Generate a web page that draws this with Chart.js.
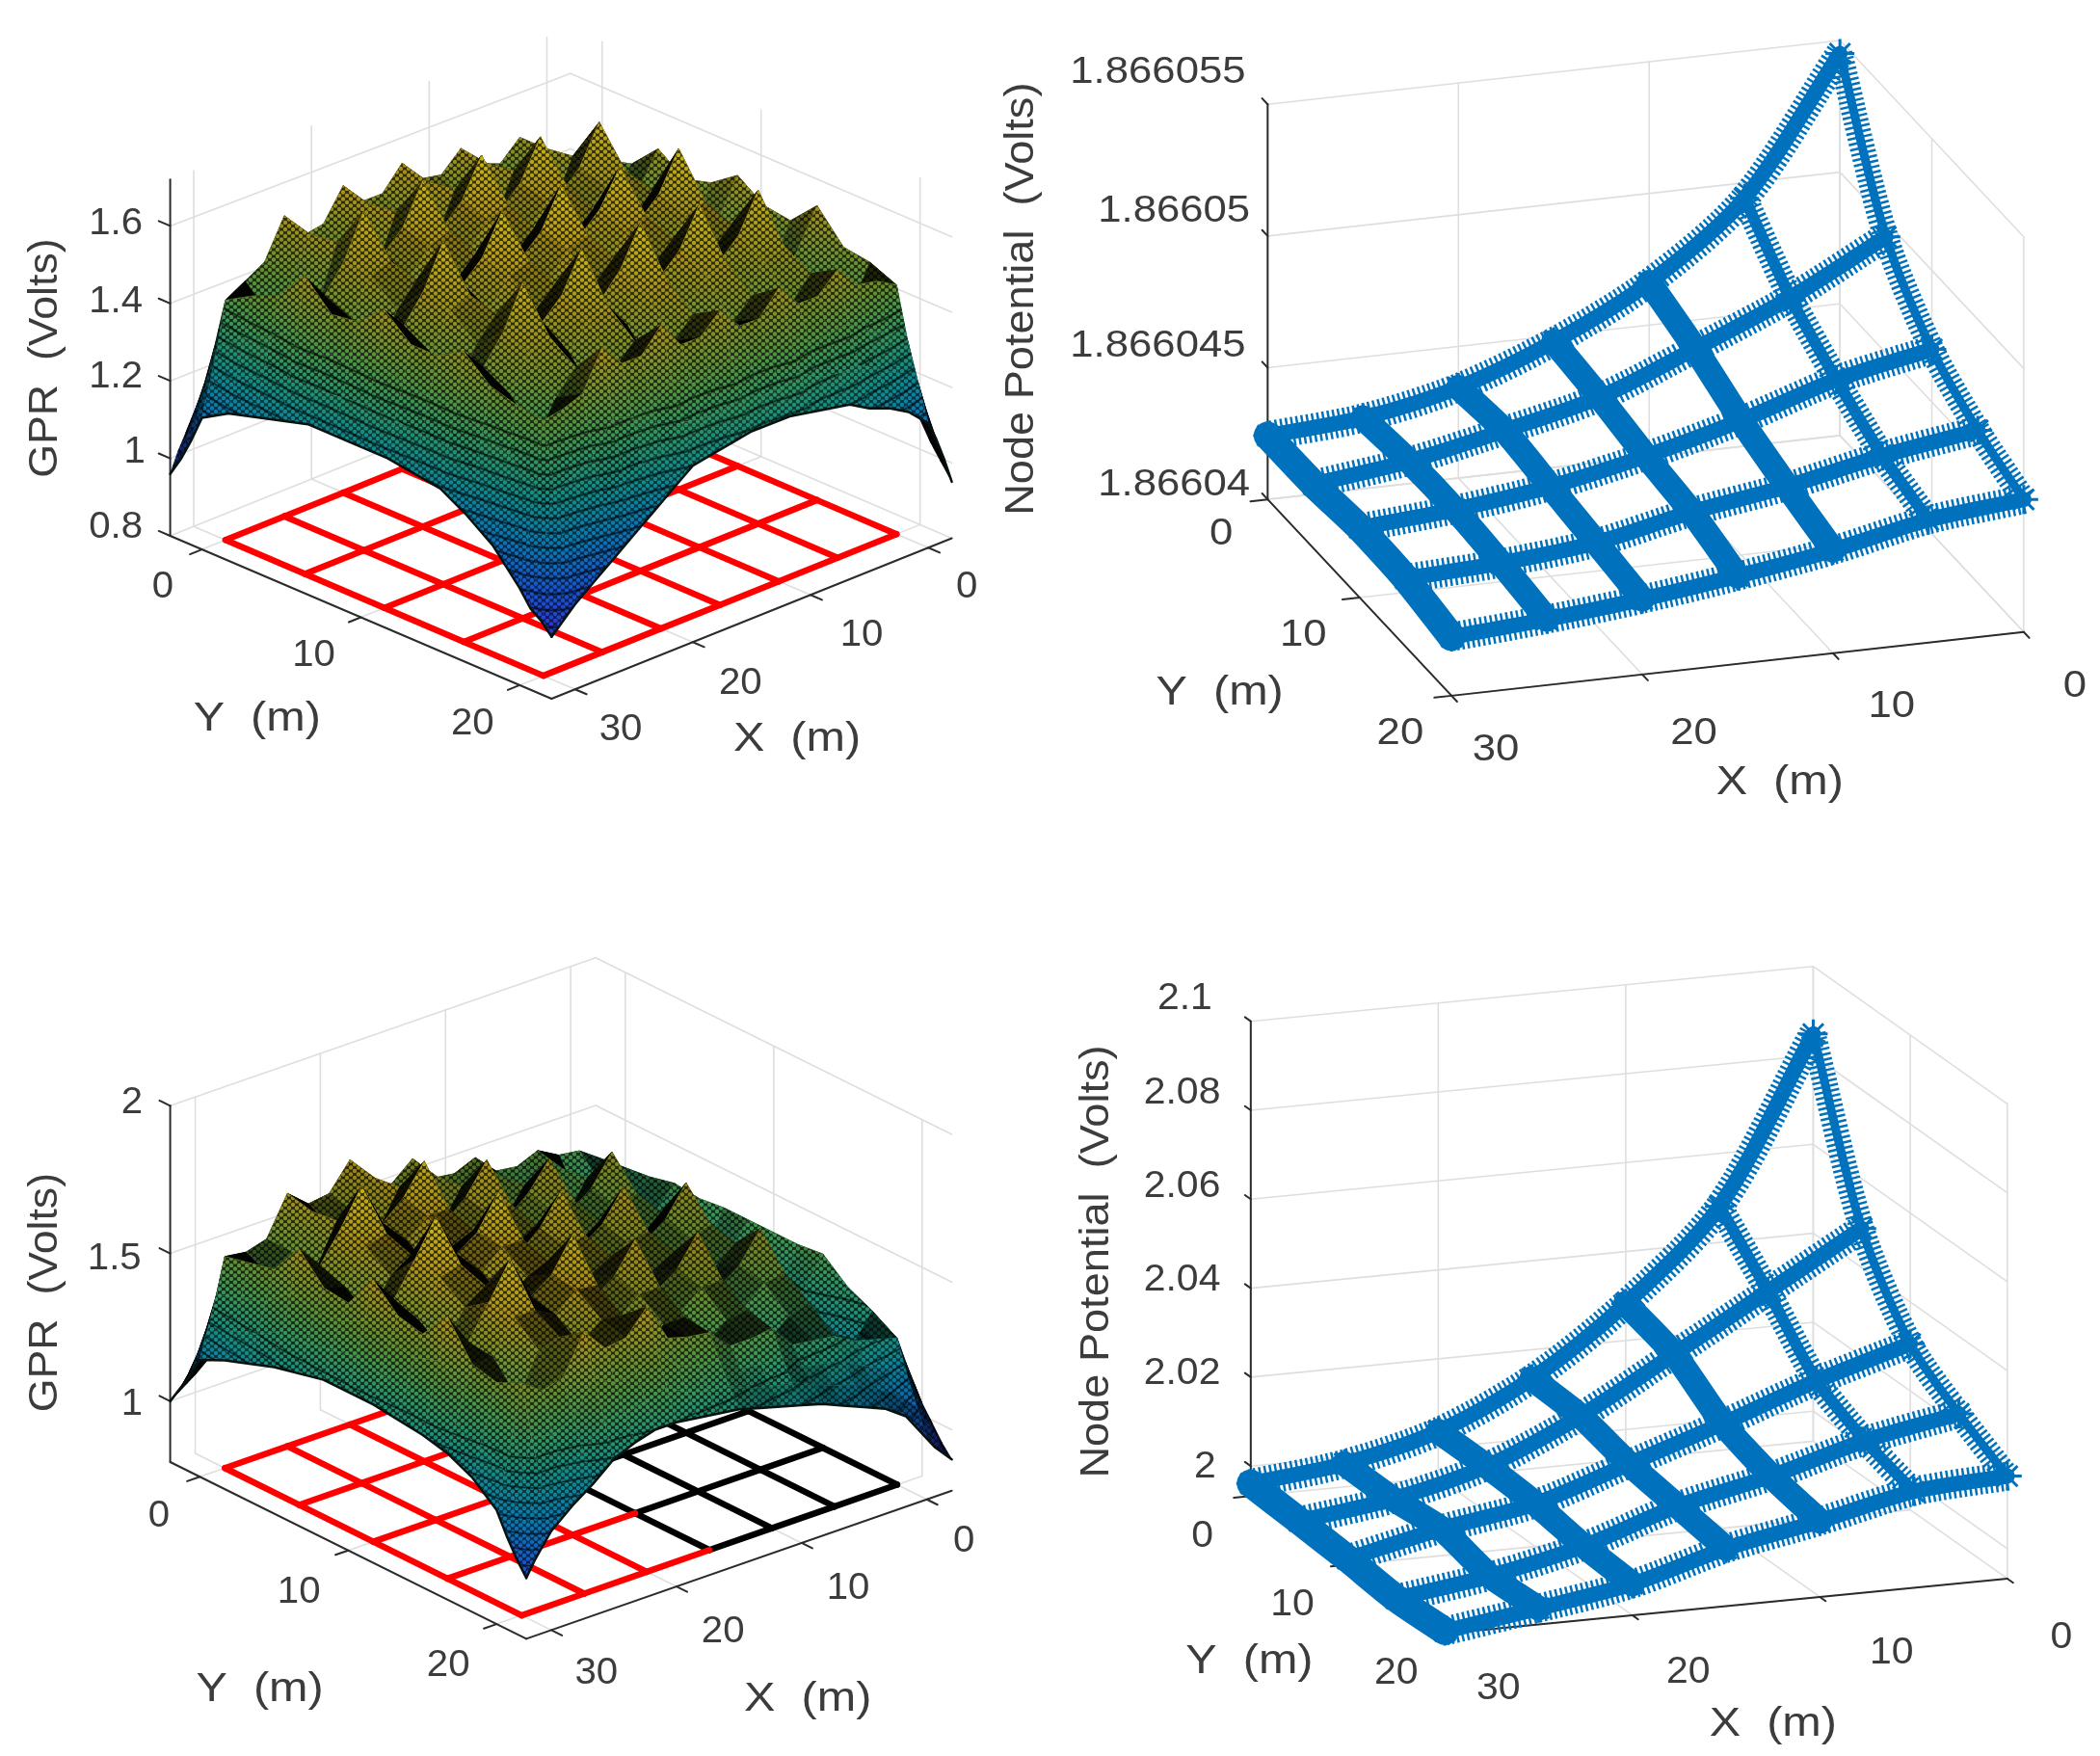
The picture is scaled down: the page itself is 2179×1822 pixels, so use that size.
<!DOCTYPE html>
<html><head><meta charset="utf-8">
<style>html,body{margin:0;padding:0;background:#fff;overflow:hidden}
#wrap{position:relative;width:2179px;height:1822px}
canvas{position:absolute;filter:blur(0.6px)}</style>
<script src="https://cdn.jsdelivr.net/npm/chart.js@4/dist/chart.umd.min.js"></script>
</head><body><div id="wrap"></div>
<script>
// ---- grid conductors (m) and axis ticks
const GRID_X=[0,5,10,15,20,25,30];
const GRID_Y=[0,5,10,15,20];
const TICK_X=[0,10,20,30];
const TICK_Y=[0,10,20];
const GPR_TICKS_A=[0.8,1,1.2,1.4,1.6];
const GPR_LABELS_A=['0.8','1','1.2','1.4','1.6'];
const GPR_TICKS_B=[1,1.5,2];
const GPR_LABELS_B=['1','1.5','2'];
const NODE_TICKS_A=[0,5,10,15];          // microvolts above 1.86604 V
const NODE_LABELS_A=['1.86604','1.866045','1.86605','1.866055'];
const NODE_TICKS_B=[2,2.02,2.04,2.06,2.08,2.1];
const NODE_LABELS_B=['2','2.02','2.04','2.06','2.08','2.1'];
// ---- surface sample positions (m)
const SURF_X=[-2,-1.33,-.67,0,1.67,3.33,5,6.67,8.33,10,11.67,13.33,15,16.67,18.33,20,21.67,23.33,25,26.67,28.33,30,30.67,31.33,32];
const SURF_Y=[-2,-1.33,-.67,0,1.67,3.33,5,6.67,8.33,10,11.67,13.33,15,16.67,18.33,20,20.67,21.33,22];
// ---- GPR surface, upper panel, hundredths of a volt (row = Y, column = X)
const GPR_A=[
[95,102,108,112,116,118,120,122,123,124,124,124,124,124,123,122,121,120,118,116,112,108,105,101,96],
[101,108,115,120,125,127,130,130,132,134,133,133,135,133,132,134,130,129,130,126,122,118,113,107,101],
[107,114,122,129,135,137,142,139,141,145,142,143,146,143,142,146,140,139,143,136,132,129,121,114,107],
[114,122,130,140,146,148,155,150,152,158,153,154,160,154,154,160,152,151,158,148,145,142,131,122,114],
[118,126,135,146,140,136,155,146,142,157,148,144,158,148,144,158,148,142,156,146,138,146,136,127,118],
[120,128,137,148,138,134,156,144,140,158,146,142,159,147,142,159,146,141,157,142,136,149,139,129,120],
[122,132,142,155,146,141,168,158,153,170,160,155,171,161,156,170,160,155,168,157,150,157,144,132,122],
[124,132,140,150,143,137,158,156,150,160,158,152,161,159,153,160,158,152,158,156,147,150,141,132,124],
[124,132,141,152,140,134,156,150,144,157,152,146,158,153,147,157,152,146,156,150,141,151,142,133,124],
[125,135,145,157,147,142,170,160,155,171,162,157,172,162,157,171,161,156,169,158,151,157,144,134,124],
[125,133,142,152,143,137,159,157,151,161,159,153,162,160,154,161,159,152,158,156,147,151,142,133,124],
[124,132,141,151,140,134,156,151,145,158,153,147,159,154,148,158,153,146,156,150,141,151,141,132,123],
[123,133,145,158,148,142,168,158,153,170,160,155,171,161,155,170,160,155,167,156,149,155,142,132,122],
[120,129,139,150,142,136,156,154,148,158,156,150,159,157,151,158,156,150,156,154,145,149,138,127,118],
[116,126,136,149,138,134,152,146,140,152,147,141,153,148,142,152,147,141,151,145,136,147,135,123,113],
[108,119,132,146,149,150,156,151,151,157,151,151,157,152,152,159,153,153,159,149,147,146,130,117,105],
[103,112,123,133,137,139,143,142,142,146,143,143,146,143,143,146,141,140,142,134,131,129,119,110,101],
[99,107,115,123,127,130,133,133,134,137,135,135,137,135,135,136,131,129,127,122,118,115,109,104,99],
[95,102,108,113,118,121,123,126,127,128,129,129,129,128,127,126,122,118,114,110,106,102,100,98,96]];
// ---- GPR surface, lower panel, hundredths of a volt
const GPR_B=[
[90,96,100,104,108,110,112,114,116,118,120,122,124,125,126,126,125,124,122,118,112,106,104,102,100],
[94,102,107,114,118,120,122,123,125,128,129,131,134,135,136,138,135,134,135,128,123,120,115,110,106],
[99,106,115,126,130,131,134,134,135,139,139,141,146,145,146,153,146,145,149,139,136,134,126,119,112],
[104,113,125,140,145,146,150,147,148,155,152,153,162,156,158,169,160,159,165,152,150,151,139,129,119],
[108,118,128,141,136,132,148,140,136,153,146,142,160,152,148,167,158,154,163,152,146,153,142,132,123],
[110,119,130,142,134,130,149,138,134,154,144,140,161,150,146,168,156,152,164,150,144,155,145,135,126],
[112,122,132,144,136,130,162,152,147,167,158,152,174,164,158,181,171,165,180,168,158,166,152,140,129],
[114,122,132,143,133,127,152,150,144,157,155,149,163,162,156,169,169,163,168,166,155,157,150,140,131],
[115,123,133,144,130,124,150,144,138,154,149,143,160,156,150,166,163,157,165,160,149,156,151,142,133],
[116,124,133,144,136,131,164,154,149,170,160,155,176,166,160,183,172,167,182,170,159,168,155,144,133],
[116,124,133,144,132,126,154,152,146,159,158,152,165,164,158,171,171,165,170,168,156,160,152,142,133],
[115,123,133,144,129,123,152,146,140,156,152,146,162,158,152,168,165,159,167,162,150,158,151,141,132],
[114,123,133,145,134,128,161,151,146,167,157,152,172,162,157,181,170,165,180,168,157,168,154,142,131],
[112,120,128,138,128,122,150,149,143,155,155,149,160,160,154,168,169,163,167,167,156,156,147,138,129],
[109,116,125,134,124,120,144,142,136,149,148,142,154,154,148,162,163,157,162,160,146,154,144,134,125],
[104,112,120,129,131,133,137,138,139,147,146,146,153,154,156,169,161,160,168,155,153,158,143,130,118],
[99,105,111,118,123,126,130,132,133,139,139,140,145,146,148,156,151,150,154,143,140,141,130,121,111],
[94,99,103,109,116,120,124,126,129,132,133,135,138,139,141,145,143,141,141,133,129,127,119,113,105],
[90,93,96,100,110,115,118,121,124,126,128,130,132,133,134,135,135,133,130,124,119,113,109,105,100]];
// ---- node potentials on the conductor grid (row = GRID_Y, column = GRID_X)
const NODE_UV_A=[ // microvolts above 1.86604 V
[14.5,9.41,6.62,4.78,3.44,2.69,2.42],
[9.41,7.5,5.97,4.53,3.67,2.91,2.44],
[7.0,6.25,5.11,4.16,3.41,2.94,2.65],
[5.79,5.23,4.47,3.9,3.14,2.77,2.59],
[5.03,4.66,3.91,3.33,2.86,2.5,2.23]];
const NODE_V_B=[
[2.0848,2.0481,2.0283,2.0135,2.0037,1.9985,1.9961],
[2.0488,2.0367,2.0247,2.0128,2.0036,1.9983,1.9954],
[2.0306,2.0243,2.0168,2.0098,2.0029,1.9993,1.9946],
[2.0226,2.0186,2.0127,2.008,2.0011,1.9964,1.9934],
[2.0163,2.0149,2.0103,2.0062,2.0003,1.9969,1.9938]];

// ---- layout
const D=1.397; // label anchors below are in 1560-wide units
const FONT='"Liberation Sans"';
const P1={ox:0,oy:0,w:1030,h:900,xr:[-2,32],yr:[-2,22],zmin:.8,ztop:1.72,
 B:[591.9,389],L:[176.6,556],F:[572.3,725],R:[987.6,558.5],k0:391,dk:11,
 zt:GPR_TICKS_A,zl:GPR_LABELS_A,zpos:[[86,392],[100,336],[86,280],[86,224],[86,166]],
 xpos:[[718,436],[640,472],[550,508],[461,542]],ypos:[[121,436],[233,487],[351,538]],
 xt:[592,549],yt:[191,534],ztl:[34,266],ztitle:'GPR  (Volts)',fs:39,sx:1.03,tfs:43,tsx:1.04,hsx:1.13,
 ctop:1.42,cstep:.035,clim:[.95,1.72]};
const P3={ox:0,oy:900,w:1030,h:922,xr:[-2,32],yr:[-2,22],zmin:.794,ztop:2,
 B:[618.1,1363.3],L:[176.6,1517],F:[546.1,1700.4],R:[987.6,1546.7],k0:306.5,dk:0,
 zt:GPR_TICKS_B,zl:GPR_LABELS_B,zpos:[[98,1043],[85,935],[98,819]],
 xpos:[[716,1145],[630,1180],[537,1212],[443,1243]],ypos:[[118,1126],[222,1183],[333,1237]],
 xt:[600,1262],yt:[193,1255],ztl:[34,960],ztitle:'GPR  (Volts)',fs:39,sx:1.03,tfs:43,tsx:1.04,hsx:1.13,
 ctop:1.38,cstep:.045,clim:[.9,1.83]};
const P2={ox:1030,oy:0,w:1149,h:900,xr:[0,30],yr:[0,20],zmin:0,ztop:15,
 B:[1919,452],L:[1306,521],F:[1503,733.2],R:[2115.9,664.3],k0:28.47,dk:0,
 zt:NODE_TICKS_A,zl:NODE_LABELS_A,zpos:[[872,360],[860,257],[872,157],[860,54]],
 xpos:[[1541,510],[1405,525],[1258,545],[1111,557]],ypos:[[907,397],[968,472],[1040,545]],
 xt:[1322,581],yt:[906,515],ztl:[759,222],ztitle:'Node Potential  (Volts)',fs:39,sx:1.12,tfs:43,tsx:1.05,hsx:1.13};
const P4={ox:1030,oy:900,w:1149,h:922,xr:[0,30],yr:[0,20],zmin:1.99326,ztop:2.1,
 B:[1890.4,1500.8],L:[1287.9,1560.1],F:[1495.8,1708.5],R:[2098.3,1649.2],k0:4803,dk:0,
 zt:NODE_TICKS_B,zl:NODE_LABELS_B,zpos:[[895,1090],[878,1020],[878,951],[878,881],[878,812],[880,742]],
 xpos:[[1531,1216],[1405,1228],[1254,1242],[1113,1254]],ypos:[[893,1141],[960,1192],[1037,1243]],
 xt:[1317,1281],yt:[928,1234],ztl:[815,937],ztitle:'Node Potential  (Volts)',fs:39,sx:1.05,tfs:43,tsx:1.05,hsx:1.13};
const GRID_GREY='#dedede',AXIS='#2b2b2b',TEXT='#3c3c3c',BLUE='#0072BD';

function projector(p){return (X,Y,Z)=>{
 const u=(X-p.xr[0])/(p.xr[1]-p.xr[0]),v=(Y-p.yr[0])/(p.yr[1]-p.yr[0]);
 const f=i=>(1-v)*((1-u)*p.B[i]+u*p.L[i])+v*((1-u)*p.R[i]+u*p.F[i]);
 return {x:f(0)-p.ox,y:f(1)-p.oy-(Z-p.zmin)*(p.k0+p.dk*u)};};}

function lineDs(pts,color,w,extra){return Object.assign({data:pts,showLine:true,borderColor:color,borderWidth:w,
 pointRadius:0,fill:false,clip:false,borderCapStyle:'round',borderJoinStyle:'round'},extra||{});}

function axesLayers(p,P){
 const out=[],[x0,x1]=p.xr,[y0,y1]=p.yr,z0=p.zmin,zt=p.ztop;
 const g=(a,b)=>out.push(lineDs([a,b],GRID_GREY,1.6));
 p.zt.forEach(z=>{const b=P(x0,y0,z);g(P(x1,y0,z),b);g(b,P(x0,y1,z));});
 TICK_X.forEach(x=>{g(P(x,y0,z0),P(x,y0,zt));g(P(x,y0,z0),P(x,y1,z0));});
 TICK_Y.forEach(y=>{g(P(x0,y,z0),P(x0,y,zt));g(P(x0,y,z0),P(x1,y,z0));});
 const d=(a,b)=>out.push(lineDs([a,b],AXIS,2));
 d(P(x1,y0,z0),P(x1,y0,zt));d(P(x1,y0,z0),P(x1,y1,z0));d(P(x1,y1,z0),P(x0,y1,z0));
 const dy=(y1-y0)*.03,dx=(x1-x0)*.03;
 p.zt.forEach(z=>d(P(x1,y0,z),P(x1,y0-dy,z)));
 TICK_X.forEach(x=>d(P(x,y1,z0),P(x,y1+dy,z0)));
 TICK_Y.forEach(y=>d(P(x1,y,z0),P(x1+dx,y,z0)));
 return out;}

function floorGrid(p,P,isBlack){
 const out=[],z=p.zmin,add=(a,b,c)=>out.push(lineDs([a,b],c,6.5));
 GRID_X.forEach(x=>{for(let j=0;j<GRID_Y.length-1;j++){const y=GRID_Y[j],y2=GRID_Y[j+1];
   add(P(x,y,z),P(x,y2,z),isBlack(x,y,'x')?'#000':'#ff0000');}});
 GRID_Y.forEach(y=>{for(let i=0;i<GRID_X.length-1;i++){const x=GRID_X[i],x2=GRID_X[i+1];
   add(P(x,y,z),P(x2,y,z),isBlack(x,y,'y')?'#000':'#ff0000');}});
 return out;}

function surfaceLayers(p,P,M){
 const out=[];
 for(let i=0;i<SURF_X.length-1;i++)for(let j=0;j<SURF_Y.length-1;j++){
  const c=[[i,j],[i+1,j],[i+1,j+1],[i,j+1]];
  const zs=c.map(([a,b])=>M[b][a]/100);
  out.push({data:c.map(([a,b],n)=>P(SURF_X[a],SURF_Y[b],zs[n])),
   floor:c.map(([a,b])=>P(SURF_X[a],SURF_Y[b],p.zmin)),
   zs,quad:true,showLine:false,pointRadius:0,fill:false,clip:false});
 }
 const e1=SURF_Y.map((y,j)=>P(32,y,M[j][SURF_X.length-1]/100));
 const e2=SURF_X.map((x,i)=>P(x,22,M[SURF_Y.length-1][i]/100));
 out.push(lineDs(e1,'#07120f',2.5));out.push(lineDs(e2,'#07120f',2.5));
 return out;}

function wireLayers(p,P,M,conv){
 const out=[];
 const soft=(pts,w,core,t)=>{
  out.push(lineDs(pts,BLUE,w,{tension:t,borderDash:[2.5,3],borderCapStyle:'butt'}));
  out.push(lineDs(pts,BLUE,core,{tension:t}));};
 GRID_Y.forEach((y,j)=>{
  const pts=GRID_X.map((x,i)=>P(x,y,conv(M[j][i])));
  soft(pts,30,16,.3);});
 GRID_X.forEach((x,i)=>{
  const pts=GRID_Y.map((y,j)=>P(x,y,conv(M[j][i])));
  if(i==0)soft(pts,26,9,.3);
  else if(i==1)soft(pts,27,12,.2);
  else out.push(lineDs(pts,BLUE,i==6?29:26,{tension:.2}));});
 const nodes=[];GRID_Y.forEach((y,j)=>GRID_X.forEach((x,i)=>nodes.push(P(x,y,conv(M[j][i])))));
 out.push({data:nodes,showLine:false,pointStyle:'star',pointRadius:15,pointBorderWidth:3,pointBorderColor:BLUE,pointBackgroundColor:BLUE,clip:false});
 return out;}

// colour ramp of the surface (parula-like, as seen through the dark mesh)
const RAMP=[[0,[48,48,200]],[.12,[25,80,205]],[.28,[10,120,175]],[.42,[20,140,130]],[.56,[60,150,85]],[.7,[110,140,40]],[.84,[175,145,25]],[1,[205,185,25]]];
function ramp(t){t=Math.max(0,Math.min(1,t));
 for(let i=1;i<RAMP.length;i++)if(t<=RAMP[i][0]){const a=RAMP[i-1],b=RAMP[i],f=(t-a[0])/(b[0]-a[0]);
  return a[1].map((v,k)=>v+(b[1][k]-v)*f);}
 return RAMP[RAMP.length-1][1];}
const rgb=(c,s)=>`rgb(${c.map(v=>Math.round(Math.min(255,v*s))).join(',')})`;
const area=q=>{let s=0;for(let i=0;i<4;i++){const a=q[i],b=q[(i+1)%4];s+=a.x*b.y-b.x*a.y;}return s/2;};

function makeLattice(ctx){
 const c=document.createElement('canvas');c.width=8;c.height=7;const t=c.getContext('2d');
 t.fillStyle='#000';t.fillRect(0,0,8,7);t.globalCompositeOperation='destination-out';
 [[0,0],[8,0],[0,7],[8,7],[4,3.5]].forEach(([x,y])=>{t.beginPath();t.arc(x,y,2.2,0,7);t.fill();});
 return ctx.createPattern(c,'repeat');}

const surfacePlugin={id:'surfacePlugin',
 beforeDatasetDraw(chart,args){
  const ds=chart.data.datasets[args.index];if(!ds.quad)return;
  const p=chart.options.plugins.surfacePlugin.panel;
  const pts=args.meta.data,ctx=chart.ctx;
  if(!chart._lat)chart._lat=makeLattice(ctx);
  const q=pts.map(e=>({x:e.x,y:e.y})),A0=area(ds.floor),ratio=area(q)/A0;
  const shade=Math.max(.03,Math.min(1,(ratio-.6)/2.4));
  const zs=ds.zs,zlo=Math.min(...zs),zhi=Math.max(...zs);
  const col=z=>ramp((z-p.clim[0])/(p.clim[1]-p.clim[0]));
  let style=rgb(col((zlo+zhi)/2),shade);
  const dx1=q[2].x-q[0].x,dy1=q[2].y-q[0].y,dz1=zs[2]-zs[0],dx2=q[3].x-q[1].x,dy2=q[3].y-q[1].y,dz2=zs[3]-zs[1];
  const det=dx1*dy2-dx2*dy1;
  if(Math.abs(det)>1e-3&&zhi-zlo>1e-3){
   const a=(dz1*dy2-dz2*dy1)/det,b=(dx1*dz2-dx2*dz1)/det,n=a*a+b*b;
   if(n>1e-12){
    const s0=(zlo-zs[0])/n,s1=(zhi-zs[0])/n;
    const g=ctx.createLinearGradient(q[0].x+a*s0,q[0].y+b*s0,q[0].x+a*s1,q[0].y+b*s1);
    const span=zhi-zlo,w=.0045/span;
    const put=(z,s)=>rgb(col(z),s);
    g.addColorStop(0,put(zlo,shade));g.addColorStop(1,put(zhi,shade));
    if(zlo<p.ctop){
     for(let L=Math.ceil(zlo/p.cstep)*p.cstep;L<Math.min(zhi,p.ctop);L+=p.cstep){
      const f=(L-zlo)/span;
      if(f-w>0&&f+w<1){g.addColorStop(f-w,put(L,shade));g.addColorStop(f,put(L,shade*.3));g.addColorStop(f+w,put(L,shade));}
     }}
    style=g;
   }}
  ctx.save();ctx.beginPath();q.forEach((e,i)=>i?ctx.lineTo(e.x,e.y):ctx.moveTo(e.x,e.y));ctx.closePath();
  ctx.fillStyle=style;ctx.strokeStyle=style;ctx.lineWidth=.8;ctx.fill();ctx.stroke();
  ctx.globalAlpha=zhi<p.ctop?.6:.72;ctx.fillStyle=chart._lat;ctx.fill();
  ctx.restore();
 }};

const textPlugin={id:'textPlugin',
 afterDraw(chart){
  const p=chart.options.plugins.textPlugin.panel,ctx=chart.ctx;
  const put=(s,pos,fs,sx,rot)=>{ctx.save();ctx.translate(pos[0]*D-p.ox,pos[1]*D-p.oy);
   if(rot)ctx.rotate(-Math.PI/2);ctx.scale(sx,1);ctx.font=`${fs}px ${FONT}`;ctx.fillStyle=TEXT;
   ctx.textAlign='center';ctx.textBaseline='middle';ctx.fillText(s,0,0);ctx.restore();};
  p.zl.forEach((s,i)=>put(s,p.zpos[i],p.fs,p.sx));
  TICK_X.forEach((t,i)=>put(String(t),p.xpos[i],p.fs,p.sx));
  TICK_Y.forEach((t,i)=>put(String(t),p.ypos[i],p.fs,p.sx));
  put('X  (m)',p.xt,p.tfs,p.hsx);put('Y  (m)',p.yt,p.tfs,p.hsx);
  put(p.ztitle,p.ztl,p.tfs,p.tsx,true);
 }};

function build(p,layers){
 const c=document.createElement('canvas');c.width=p.w;c.height=p.h;
 c.style.left=p.ox+'px';c.style.top=p.oy+'px';c.style.width=p.w+'px';c.style.height=p.h+'px';
 document.getElementById('wrap').appendChild(c);
 new Chart(c,{type:'scatter',data:{datasets:layers.slice().reverse()},
  plugins:[surfacePlugin,textPlugin],
  options:{responsive:false,animation:false,devicePixelRatio:1,events:[],layout:{padding:0},
   plugins:{legend:{display:false},tooltip:{enabled:false},surfacePlugin:{panel:p},textPlugin:{panel:p}},
   scales:{x:{type:'linear',display:false,min:0,max:p.w},y:{type:'linear',display:false,min:0,max:p.h,reverse:true}}}});
}
const PA=projector(P1),PB=projector(P2),PC=projector(P3),PD=projector(P4);
build(P1,[...axesLayers(P1,PA),...floorGrid(P1,PA,()=>false),...surfaceLayers(P1,PA,GPR_A)]);
build(P2,[...axesLayers(P2,PB),...wireLayers(P2,PB,NODE_UV_A,v=>v)]);
build(P3,[...axesLayers(P3,PC),
 ...floorGrid(P3,PC,(x,y,d)=>d=='x'?(x<=15&&y>=5):(x<15&&y>=5)),
 ...surfaceLayers(P3,PC,GPR_B)]);
build(P4,[...axesLayers(P4,PD),...wireLayers(P4,PD,NODE_V_B,v=>v)]);
</script></body></html>
